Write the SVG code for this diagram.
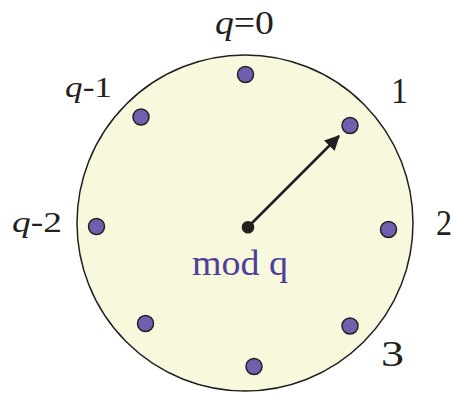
<svg xmlns="http://www.w3.org/2000/svg" width="453" height="394" viewBox="0 0 453 394">
<style>
.lbl{font-family:"Liberation Serif","Times New Roman",serif;fill:#231f20}
.it{font-style:italic}
.dot{fill:#6f5fae;stroke:#231f20;stroke-width:1.5}
.mod{font-family:"Liberation Serif","Times New Roman",serif;fill:#4f3f9a}
</style>
<defs>
<marker id="ah" markerWidth="6" markerHeight="6" refX="5.5" refY="3" orient="auto" markerUnits="strokeWidth" viewBox="0 0 6 6">
<path d="M0,0 L6,3 L0,6 Z" fill="#231f20"/>
</marker>
</defs>
<g id="dial">
<circle cx="245" cy="223" r="168" fill="#f8f8dd" stroke="#231f20" stroke-width="1.5"/>
</g>
<g id="points">
<circle class="dot" cx="245.5" cy="74.5" r="8"/>
<circle class="dot" cx="350" cy="125.5" r="8"/>
<circle class="dot" cx="388.5" cy="229.5" r="8"/>
<circle class="dot" cx="350" cy="326" r="8"/>
<circle class="dot" cx="254" cy="366.5" r="8"/>
<circle class="dot" cx="145.5" cy="323.5" r="8"/>
<circle class="dot" cx="96.5" cy="226.5" r="8"/>
<circle class="dot" cx="141" cy="117" r="8"/>
</g>
<g id="connectors">
<line x1="248" y1="227" x2="339" y2="136" stroke="#231f20" stroke-width="2.5" marker-end="url(#ah)"/>
<circle cx="248" cy="227.3" r="6.3" fill="#231f20"/>
</g>
<g id="labels">
<text class="lbl" x="215" y="33.5" font-size="33" textLength="59" lengthAdjust="spacingAndGlyphs"><tspan class="it">q</tspan>=0</text>
<text class="lbl" x="65" y="97" font-size="30" textLength="47" lengthAdjust="spacingAndGlyphs"><tspan class="it">q</tspan>-1</text>
<text class="lbl" x="12" y="232" font-size="30" textLength="50" lengthAdjust="spacingAndGlyphs"><tspan class="it">q</tspan>-2</text>
<text class="lbl" x="391" y="102.5" font-size="36" textLength="17" lengthAdjust="spacingAndGlyphs">1</text>
<text class="lbl" x="436" y="235" font-size="36" textLength="16" lengthAdjust="spacingAndGlyphs">2</text>
<text class="lbl" x="381" y="366" font-size="35" textLength="23" lengthAdjust="spacingAndGlyphs">3</text>
<text class="mod" x="192" y="274.5" font-size="35" textLength="96" lengthAdjust="spacingAndGlyphs">mod q</text>
</g>
</svg>
